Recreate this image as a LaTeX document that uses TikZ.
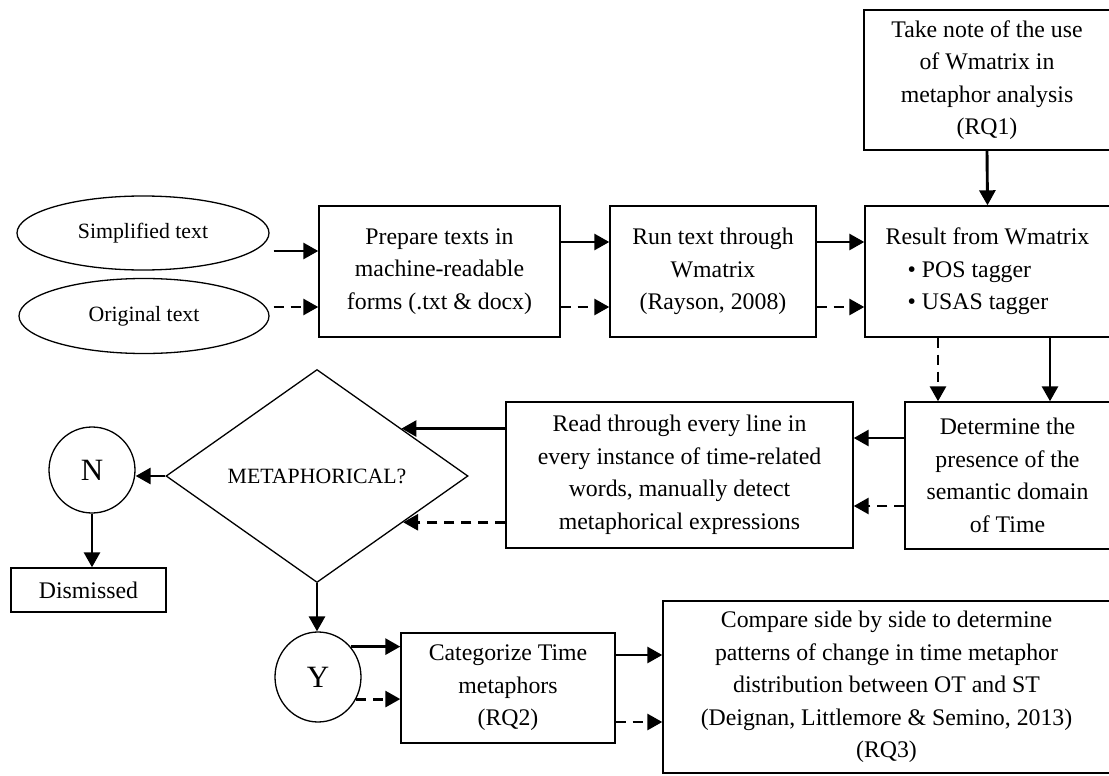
\documentclass[tikz,border=0pt]{standalone}
\usepackage{fontspec}
\setmainfont{Liberation Serif}
\usetikzlibrary{arrows.meta,shapes.geometric,calc}
\begin{document}
\begin{tikzpicture}[x=1pt,y=-1pt,
  box/.style={draw,line width=1.4pt,rectangle,inner sep=0pt,align=center,font=\fontsize{23.8}{32.5}\selectfont},
  oval/.style={draw,line width=1.3pt,ellipse,inner sep=0pt,font=\fontsize{21.8}{25}\selectfont},
  arr/.style={line width=2.9pt,-{Triangle[length=15pt,width=16pt]}},
  darr/.style={arr,dash pattern=on 10pt off 7pt},
]
\useasboundingbox (0,0) rectangle (1109,776);
\clip (0,0) rectangle (1109,776);

% nodes
\node[box,minimum width=246pt,minimum height=140pt] (take) at (987,80) {Take note of the use\\of Wmatrix in\\metaphor analysis\\(RQ1)};
\node[box,align=left,minimum width=245pt,minimum height=131pt] (res) at (987.5,271.5) {Result from Wmatrix\\\hspace*{22pt}\textbullet\ POS tagger\\\hspace*{22pt}\textbullet\ USAS tagger};
\node[oval,minimum width=252pt,minimum height=74pt] (simp) at (143,233) {Simplified text};
\node[oval,minimum width=250pt,minimum height=75pt] (orig) at (144,316) {Original text};
\node[box,minimum width=241pt,minimum height=131pt] (prep) at (439.5,271.5) {Prepare texts in\\machine-readable\\forms (.txt \& docx)};
\node[box,minimum width=206pt,minimum height=131pt] (run) at (713,271.5) {Run text through\\Wmatrix\\(Rayson, 2008)};
\node[box,minimum width=205pt,minimum height=147pt] (det) at (1007.5,475.5) {Determine the\\presence of the\\semantic domain\\of Time};
\node[box,minimum width=347pt,minimum height=146pt] (read) at (679.5,475) {Read through every line in\\every instance of time-related\\words, manually detect\\metaphorical expressions};
\node[draw,diamond,line width=1.3pt,minimum width=302pt,minimum height=213pt,inner sep=0pt,font=\fontsize{21.8}{25}\selectfont] (dia) at (317,476) {METAPHORICAL?};
\node[draw,circle,line width=1.3pt,minimum size=86pt,inner sep=0pt,font=\fontsize{31}{31}\selectfont] (N) at (92,470) {N};
\node[box,minimum width=155pt,minimum height=44pt] (dis) at (88.5,590) {Dismissed};
\node[draw,ellipse,line width=1.3pt,minimum width=86pt,minimum height=90pt,inner sep=0pt,font=\fontsize{31}{31}\selectfont] (Y) at (318,677) {Y};
\node[box,minimum width=214pt,minimum height=110pt] (cat) at (508,688) {Categorize Time\\metaphors\\(RQ2)};
\node[box,minimum width=447pt,minimum height=172pt] (cmp) at (886.5,687) {Compare side by side to determine\\patterns of change in time metaphor\\distribution between OT and ST\\(Deignan, Littlemore \& Semino, 2013)\\(RQ3)};

% helper levels
\coordinate (ya) at (0,251);
\coordinate (yb) at (0,307);
\coordinate (yc) at (0,242);
\coordinate (yd) at (0,307);
\coordinate (ye) at (0,438);
\coordinate (yf) at (0,506);
\coordinate (yg) at (0,655);
\coordinate (yh) at (0,722);
\coordinate (xa) at (938,0);
\coordinate (xb) at (1050,0);
\coordinate (pa) at ($(dia.east)!0.443!(dia.north)$);
\coordinate (pb) at ($(dia.east)!0.432!(dia.south)$);

% connectors
\draw[arr] (take.south) -- (res.north);
\draw[arr] ($(simp.east |- ya)+(4,0)$) -- (prep.west |- ya);
\draw[darr] ($(orig.east |- yb)+(4,0)$) -- (prep.west |- yb);
\draw[arr] (prep.east |- yc) -- (run.west |- yc);
\draw[darr] (prep.east |- yd) -- (run.west |- yd);
\draw[arr] (run.east |- yc) -- (res.west |- yc);
\draw[darr] (run.east |- yd) -- (res.west |- yd);
\draw[darr] (res.south -| xa) -- (det.north -| xa);
\draw[arr] (res.south -| xb) -- (det.north -| xb);
\draw[arr] (det.west |- ye) -- (read.east |- ye);
\draw[darr] (det.west |- yf) -- (read.east |- yf);
\draw[arr] (read.west |- pa) -- (pa);
\draw[darr] (read.west |- pb) -- (pb);
\draw[arr] (dia.west) -- (dia.west -| N.east);
\draw[arr] (N.south) -- (N.south |- dis.north);
\draw[arr] (dia.south) -- (dia.south |- Y.north);
\draw[arr] (Y.43) -- (Y.43 -| cat.west);
\draw[darr] (Y.-30) -- (Y.-30 -| cat.west);
\draw[arr] (cat.east |- yg) -- (cmp.west |- yg);
\draw[darr] (cat.east |- yh) -- (cmp.west |- yh);
\end{tikzpicture}
\end{document}
